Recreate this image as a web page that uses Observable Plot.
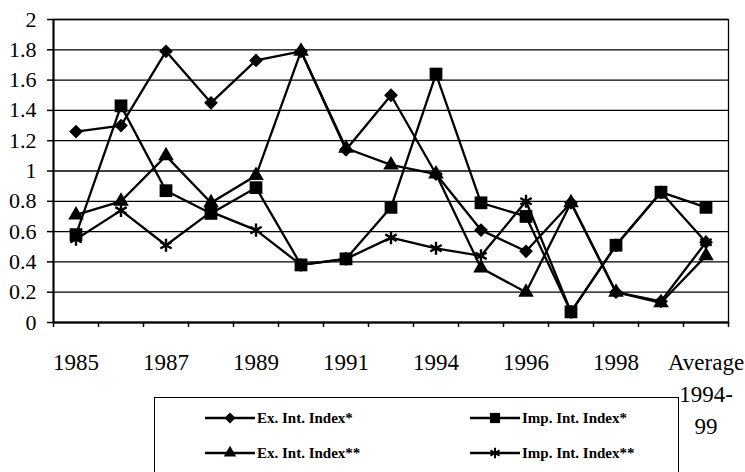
<!DOCTYPE html>
<html>
<head>
<meta charset="utf-8">
<script src="https://cdn.jsdelivr.net/npm/d3@7"></script>
<script src="https://cdn.jsdelivr.net/npm/@observablehq/plot@0.6"></script>
<style>
  html, body { margin: 0; padding: 0; background: #fff; overflow: hidden; }
  #wrap { position: relative; width: 745px; height: 472px; }
  #legend { position: absolute; left: 154px; top: 397px; width: 525px; height: 100px;
            border: 1.5px solid #000; box-sizing: border-box; background: #fff; }
  .entry { position: absolute; display: flex; align-items: center; height: 20px;
           font-family: "Liberation Serif", "Times New Roman", serif; font-weight: bold; font-size: 15px; color: #000; }
  .entry svg { display: block; margin-right: 2px; }
</style>
</head>
<body>
<div id="wrap"><div id="chart"></div><div id="legend"></div></div>
<script>
// ---- data ----
const categories = ["1985","1986","1987","1988","1989","1990","1991","1993","1994","1995","1996","1997","1998","1999","Average\n1994-\n99"];
const exIntIndex1  = [1.26, 1.30, 1.79, 1.45, 1.73, 1.79, 1.14, 1.50, 0.98, 0.61, 0.47, 0.79, 0.20, 0.14, 0.53];
const impIntIndex1 = [0.58, 1.43, 0.87, 0.72, 0.89, 0.38, 0.42, 0.76, 1.64, 0.79, 0.70, 0.07, 0.51, 0.86, 0.76];
const exIntIndex2  = [0.71, 0.80, 1.10, 0.79, 0.97, 1.79, 1.15, 1.04, 0.98, 0.36, 0.20, 0.79, 0.20, 0.13, 0.44];
const impIntIndex2 = [0.55, 0.74, 0.51, 0.73, 0.61, 0.38, 0.42, 0.56, 0.49, 0.44, 0.80, 0.07, 0.51, 0.86, 0.53];
const seriesNames = ["Ex. Int. Index*", "Imp. Int. Index*", "Ex. Int. Index**", "Imp. Int. Index**"];
const yTicks = [0, 0.2, 0.4, 0.6, 0.8, 1, 1.2, 1.4, 1.6, 1.8, 2];

// ---- styles (not data) ----
const seriesStyle = {
  "Ex. Int. Index*":  {symbol: "diamond2", r: 6.2, filled: true},
  "Imp. Int. Index*": {symbol: "square",   r: 7.2, filled: true},
  "Ex. Int. Index**": {symbol: "triangle", r: 5.8, filled: true},
  "Imp. Int. Index**":{symbol: "asterisk", r: 6.2, filled: false}
};

const seriesValues = [exIntIndex1, impIntIndex1, exIntIndex2, impIntIndex2];
const rows = [];
seriesNames.forEach((name, s) => {
  seriesValues[s].forEach((v, i) => rows.push({series: name, pos: i + 0.5, value: v}));
});

const bounds = d3.range(categories.length + 1);
const labelPos = categories.map((c, i) => i + 0.5).filter((p, i) => i % 2 === 0);

const dotMarks = seriesNames.map(name => {
  const st = seriesStyle[name];
  const data = rows.filter(d => d.series === name);
  return st.filled
    ? Plot.dot(data, {x: "pos", y: "value", symbol: st.symbol, r: st.r, fill: "#000", stroke: "none"})
    : Plot.dot(data, {x: "pos", y: "value", symbol: st.symbol, r: st.r, fill: "none", stroke: "#000", strokeWidth: 2.4});
});

const chart = Plot.plot({
  width: 745,
  height: 472,
  marginLeft: 53,
  marginRight: 17,
  marginTop: 19,
  marginBottom: 150,
  x: {domain: [0, categories.length]},
  y: {domain: [0, 2]},
  style: {fontFamily: "'Liberation Serif', 'Times New Roman', serif", background: "#fff", color: "#000"},
  marks: [
    Plot.ruleY(yTicks, {stroke: "#000", strokeWidth: 1.3}),
    Plot.frame({stroke: "#000", strokeWidth: 1.3}),
    Plot.ruleX([0], {stroke: "#000", strokeWidth: 2}),
    Plot.ruleY([0], {stroke: "#000", strokeWidth: 2}),
    Plot.axisY(yTicks, {label: null, tickSize: 6, tickPadding: 11, fontSize: 22, strokeWidth: 1.5, tickFormat: d => String(d)}),
    Plot.axisX(bounds, {label: null, tickSize: 5, strokeWidth: 1.5, tickFormat: () => ""}),
    Plot.axisX(labelPos, {label: null, tickSize: 0, tickPadding: 25, fontSize: 23, lineHeight: 1.38,
                          tickFormat: d => categories[Math.round(d - 0.5)]}),
    Plot.line(rows, {x: "pos", y: "value", z: "series", stroke: "#000", strokeWidth: 2.3}),
    ...dotMarks
  ]
});
document.getElementById("chart").appendChild(chart);

// ---- legend ----
const legendPos = [
  {left: 50, top: 10}, {left: 315, top: 10},
  {left: 50, top: 45}, {left: 315, top: 45}
];
const legend = document.getElementById("legend");
seriesNames.forEach((name, k) => {
  const st = seriesStyle[name];
  const path = d3.symbol(d3["symbol" + st.symbol[0].toUpperCase() + st.symbol.slice(1)], Math.PI * (st.r * 0.8) ** 2)();
  const div = document.createElement("div");
  div.className = "entry";
  div.style.left = legendPos[k].left + "px";
  div.style.top = legendPos[k].top + "px";
  const w = 50;
  div.innerHTML =
    `<svg width="${w}" height="20"><line x1="0" x2="${w}" y1="10" y2="10" stroke="#000" stroke-width="2.5"/>` +
    `<path transform="translate(${w / 2},10)" d="${path}" fill="${st.filled ? '#000' : 'none'}" stroke="#000" stroke-width="${st.filled ? 0 : 2}"/></svg>` +
    `<span>${name}</span>`;
  legend.appendChild(div);
});
</script>
</body>
</html>
